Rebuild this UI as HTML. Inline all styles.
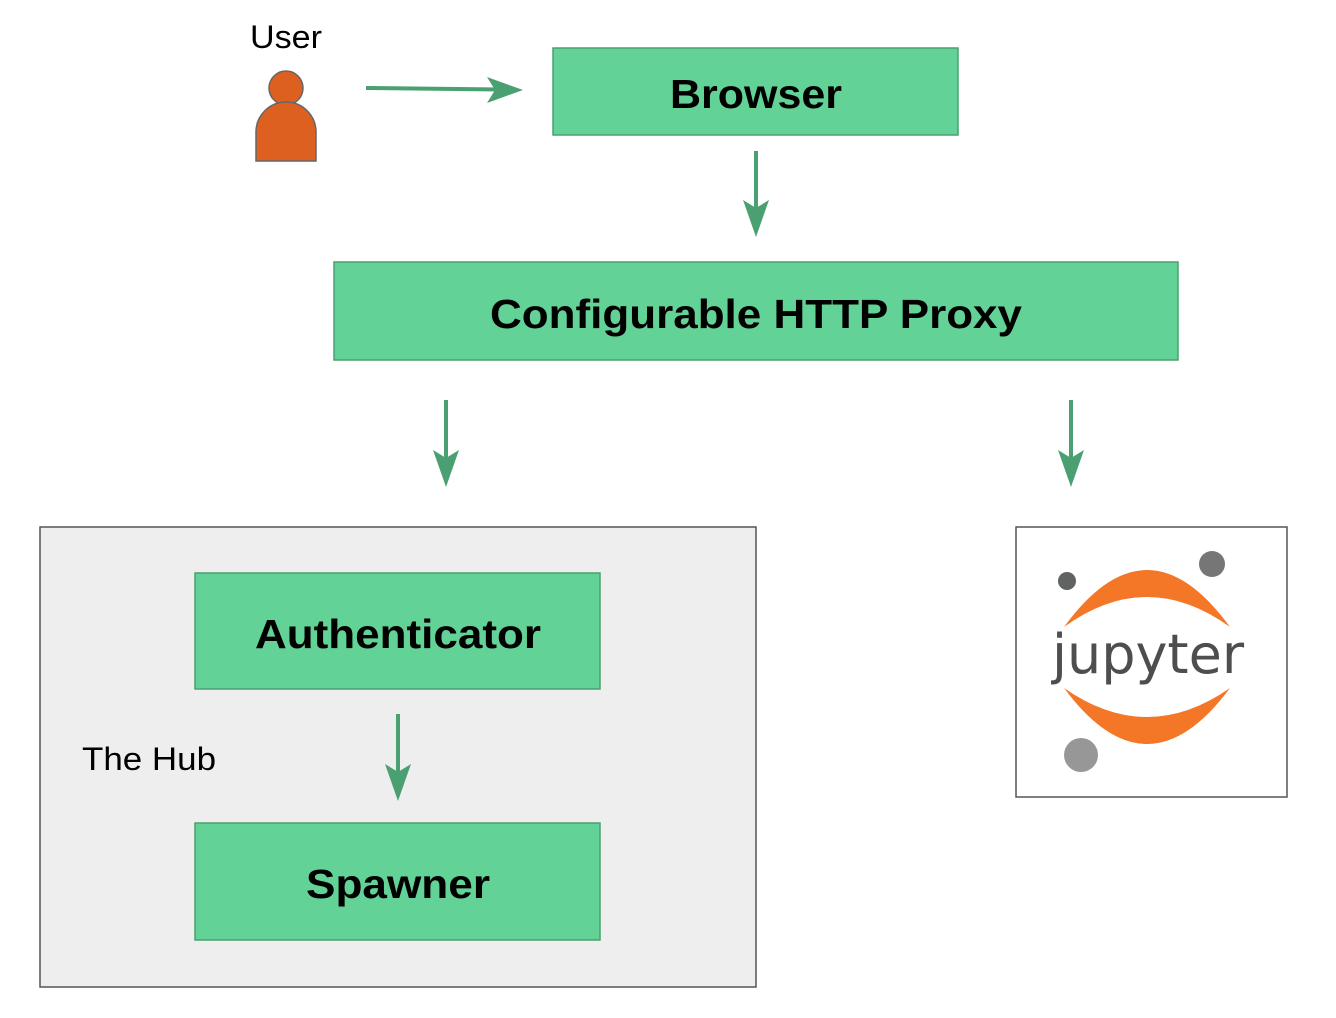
<!DOCTYPE html>
<html><head><meta charset="utf-8"><style>html,body{margin:0;padding:0;background:#fff}svg{display:block}</style></head>
<body>
<svg width="1336" height="1018" viewBox="0 0 1336 1018" xmlns="http://www.w3.org/2000/svg" font-family="Liberation Sans, sans-serif">
<rect x="553" y="48" width="405" height="87" fill="#62d296" stroke="#4aa070" stroke-width="1.5"/>
<text x="670" y="108" font-size="41" font-weight="bold" textLength="172" lengthAdjust="spacingAndGlyphs">Browser</text>
<rect x="334" y="262" width="844" height="98" fill="#62d296" stroke="#4aa070" stroke-width="1.5"/>
<text x="490" y="328" font-size="41" font-weight="bold" textLength="532" lengthAdjust="spacingAndGlyphs">Configurable HTTP Proxy</text>
<rect x="40" y="527" width="716" height="460" fill="#eeeeee" stroke="#555" stroke-width="1.5"/>
<rect x="195" y="573" width="405" height="116" fill="#62d296" stroke="#4aa070" stroke-width="1.5"/>
<text x="255" y="648" font-size="41" font-weight="bold" textLength="286" lengthAdjust="spacingAndGlyphs">Authenticator</text>
<rect x="195" y="823" width="405" height="117" fill="#62d296" stroke="#4aa070" stroke-width="1.5"/>
<text x="306" y="898" font-size="41" font-weight="bold" textLength="184" lengthAdjust="spacingAndGlyphs">Spawner</text>
<text x="82" y="770" font-size="32" textLength="134" lengthAdjust="spacingAndGlyphs">The Hub</text>
<text x="250" y="48" font-size="32" textLength="72" lengthAdjust="spacingAndGlyphs">User</text>
<circle cx="286" cy="88" r="17" fill="#dd6020" stroke="#666" stroke-width="1.5"/>
<path d="M256,161 V132 A30,30 0 0 1 316,132 V161 Z" fill="#dd6020" stroke="#666" stroke-width="1.5"/>
<g stroke="#4aa070" stroke-width="4" fill="#4aa070">
<line x1="366" y1="88" x2="500" y2="89.5"/>
<line x1="756" y1="151" x2="756" y2="222"/>
<line x1="446" y1="400" x2="446" y2="472"/>
<line x1="1071" y1="400" x2="1071" y2="472"/>
<line x1="398" y1="714" x2="398" y2="786"/>
</g>
<g fill="#4aa070">
<polygon points="523,90 487,77 495,90 487,103"/>
<polygon points="756,237 743,200 756,208 769,200"/>
<polygon points="446,487 433,450 446,458 459,450"/>
<polygon points="1071,487 1058,450 1071,458 1084,450"/>
<polygon points="398,801 385,764 398,772 411,764"/>
</g>
<rect x="1016" y="527" width="271" height="270" fill="#fff" stroke="#555" stroke-width="1.5"/>
<path d="M1064,627 Q1147,513 1230,627 Q1147,567 1064,627 Z" fill="#f37726"/>
<path d="M1064,688 Q1147,800 1230,688 Q1147,746 1064,688 Z" fill="#f37726"/>
<circle cx="1067" cy="581" r="9" fill="#616262"/>
<circle cx="1212" cy="564" r="13" fill="#767677"/>
<circle cx="1081" cy="755" r="17" fill="#989798"/>
<text x="1148" y="673" text-anchor="middle" font-size="54" fill="#4e4e4e" font-family="DejaVu Sans, sans-serif">jupyter</text>
</svg>
</body></html>
